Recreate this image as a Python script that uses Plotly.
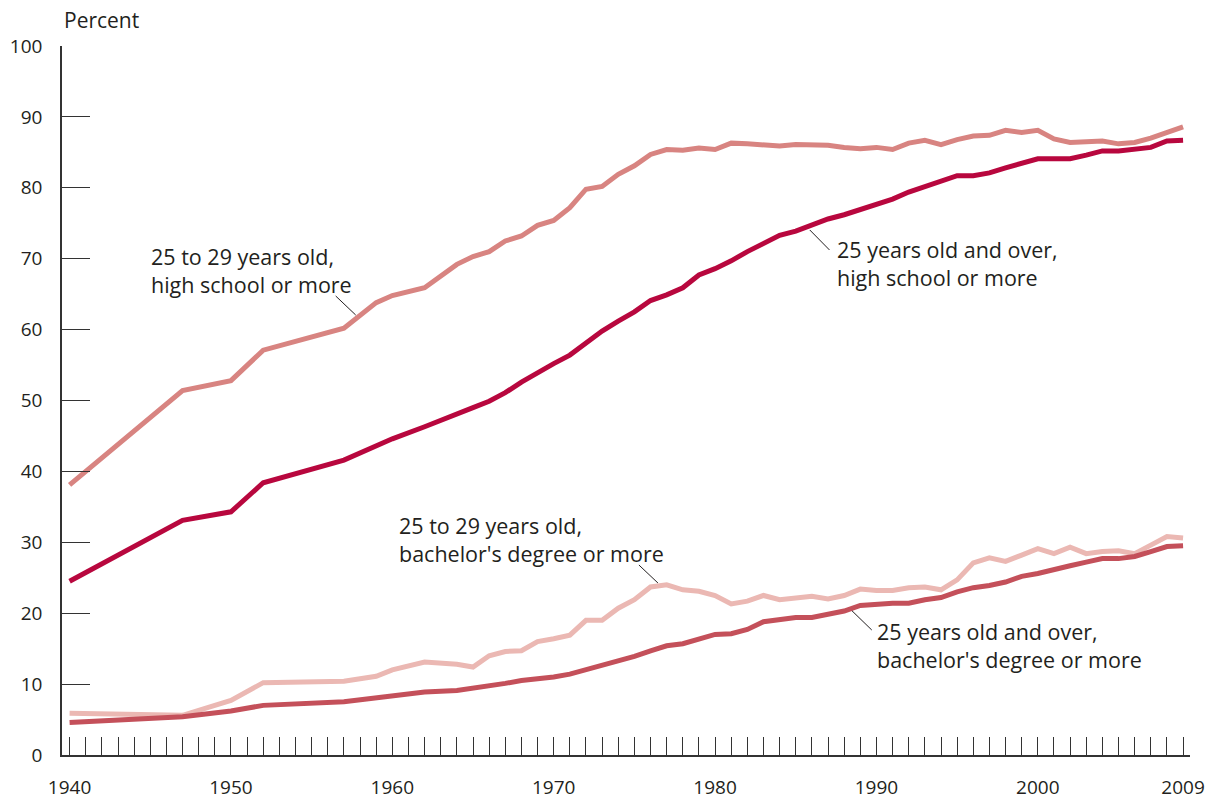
import plotly.graph_objects as go

years = [1940, 1947, 1950, 1952, 1957, 1959, 1960, 1962] + list(range(1964, 2010))

hs_25_over = [24.5, 33.1, 34.3, 38.4, 41.6, 43.7, 44.6, 46.3,
              48.0, 49.0, 49.9, 51.1, 52.6, 54.0, 55.2, 56.4, 58.2, 59.8,
              61.2, 62.5, 64.1, 64.9, 65.9, 67.7, 68.6, 69.7, 71.0, 72.1,
              73.3, 73.9, 74.7, 75.6, 76.2, 76.9, 77.6, 78.4, 79.4, 80.2,
              80.9, 81.7, 81.7, 82.1, 82.8, 83.4, 84.1, 84.1, 84.1, 84.6,
              85.2, 85.2, 85.5, 85.7, 86.6, 86.7]

hs_25_29 = [38.1, 51.4, 52.8, 57.1, 60.2, 63.8, 64.8, 65.9,
            69.2, 70.3, 71.0, 72.5, 73.2, 74.7, 75.4, 77.2, 79.8, 80.2,
            81.9, 83.1, 84.7, 85.4, 85.3, 85.6, 85.4, 86.3, 86.2, 86.0,
            85.9, 86.1, 86.1, 86.0, 85.7, 85.5, 85.7, 85.4, 86.3, 86.7,
            86.1, 86.8, 87.3, 87.4, 88.1, 87.8, 88.1, 86.9, 86.4, 86.5,
            86.6, 86.2, 86.4, 87.0, 87.8, 88.6]

ba_25_over = [4.6, 5.4, 6.2, 7.0, 7.5, 8.1, 8.4, 8.9,
              9.1, 9.4, 9.8, 10.1, 10.5, 10.7, 11.0, 11.4, 12.0, 12.6,
              13.3, 13.9, 14.7, 15.4, 15.7, 16.4, 17.0, 17.1, 17.7, 18.8,
              19.1, 19.4, 19.4, 19.9, 20.3, 21.1, 21.3, 21.4, 21.4, 21.9,
              22.2, 23.0, 23.6, 23.9, 24.4, 25.2, 25.6, 26.2, 26.7, 27.2,
              27.7, 27.7, 28.0, 28.7, 29.4, 29.5]

ba_25_29 = [5.9, 5.6, 7.7, 10.2, 10.4, 11.1, 12.0, 13.1,
            12.8, 12.4, 14.0, 14.6, 14.7, 16.0, 16.4, 16.9, 19.0, 19.0,
            20.7, 21.9, 23.7, 24.0, 23.3, 23.1, 22.5, 21.3, 21.7, 22.5,
            21.9, 22.2, 22.4, 22.0, 22.5, 23.4, 23.2, 23.2, 23.6, 23.7,
            23.3, 24.7, 27.1, 27.8, 27.3, 28.2, 29.1, 28.4, 29.3, 28.4,
            28.7, 28.8, 28.4, 29.6, 30.8, 30.6]

x_tick_years = list(range(1940, 2010))
x_tick_labels = {1940: "1940", 1950: "1950", 1960: "1960", 1970: "1970",
                 1980: "1980", 1990: "1990", 2000: "2000", 2009: "2009"}
y_ticks = [0, 10, 20, 30, 40, 50, 60, 70, 80, 90, 100]

series = [
    ("25 to 29 years old, bachelor's degree or more", ba_25_29, "#ebb8b3"),
    ("25 years old and over, bachelor's degree or more", ba_25_over, "#c4505a"),
    ("25 to 29 years old, high school or more", hs_25_29, "#d88481"),
    ("25 years old and over, high school or more", hs_25_over, "#b8073e"),
]

# (text, x-left, y-centre, pointer segment)
labels = [
    ("25 to 29 years old,<br>high school or more", 1944.98, 68.33,
     (1956.49, 64.74, 1957.73, 62.06)),
    ("25 years old and over,<br>high school or more", 1987.52, 69.27,
     (1985.87, 74.05, 1987.09, 71.23)),
    ("25 to 29 years old,<br>bachelor's degree or more", 1960.38, 30.44,
     (1975.28, 26.80, 1976.46, 24.26)),
    ("25 years old and over,<br>bachelor's degree or more", 1990.0, 15.44,
     (1988.48, 20.35, 1989.71, 17.63)),
]

FONT = "Open Sans"
TEXT = "#231f20"

fig = go.Figure()
for name, vals, color in series:
    fig.add_trace(go.Scatter(x=years, y=vals, mode="lines", name=name,
                             line=dict(color=color, width=5), showlegend=False,
                             hoverinfo="skip"))

for txt, lx, ly, (x0, y0, x1, y1) in labels:
    fig.add_annotation(x=lx, y=ly, xref="x", yref="y", text=txt, showarrow=False,
                       xanchor="left", yanchor="middle", align="left", borderpad=0,
                       font=dict(family=FONT, size=21.5, color=TEXT))
    fig.add_shape(type="line", x0=x0, y0=y0, x1=x1, y1=y1, xref="x", yref="y",
                  line=dict(color=TEXT, width=1))

fig.add_annotation(x=0, y=1.0367, xref="paper", yref="paper", text="Percent",
                   showarrow=False, xanchor="left", yanchor="middle",
                   font=dict(family=FONT, size=21, color=TEXT))

fig.update_layout(
    width=1210, height=800,
    margin=dict(l=62, r=20, t=46, b=45, autoexpand=False),
    paper_bgcolor="white", plot_bgcolor="white",
    font=dict(family=FONT, size=19, color=TEXT),
)
fig.update_xaxes(range=[1939.53, 2009.43], showgrid=False, zeroline=False,
                 automargin=False,
                 showline=True, linecolor="#333333", linewidth=1.5,
                 tickmode="array", tickvals=x_tick_years,
                 ticktext=[x_tick_labels.get(y, "") for y in x_tick_years],
                 ticks="inside", ticklen=18, tickwidth=1, tickcolor="#333333",
                 ticklabelstandoff=14, tickfont=dict(family=FONT, size=19, color=TEXT))
fig.update_yaxes(range=[0, 100], showgrid=False, zeroline=False,
                 automargin=False,
                 showline=True, linecolor="#333333", linewidth=1.5,
                 tickmode="array", tickvals=y_ticks,
                 ticks="inside", ticklen=28, tickwidth=1, tickcolor="#333333",
                 ticklabelstandoff=14, tickfont=dict(family=FONT, size=19, color=TEXT))

# remove the browser's default 8px body margin so the figure fills the window exactly
fig.write_html("out.html", config={"displayModeBar": False},
               post_script="document.body.style.margin='0px';")
